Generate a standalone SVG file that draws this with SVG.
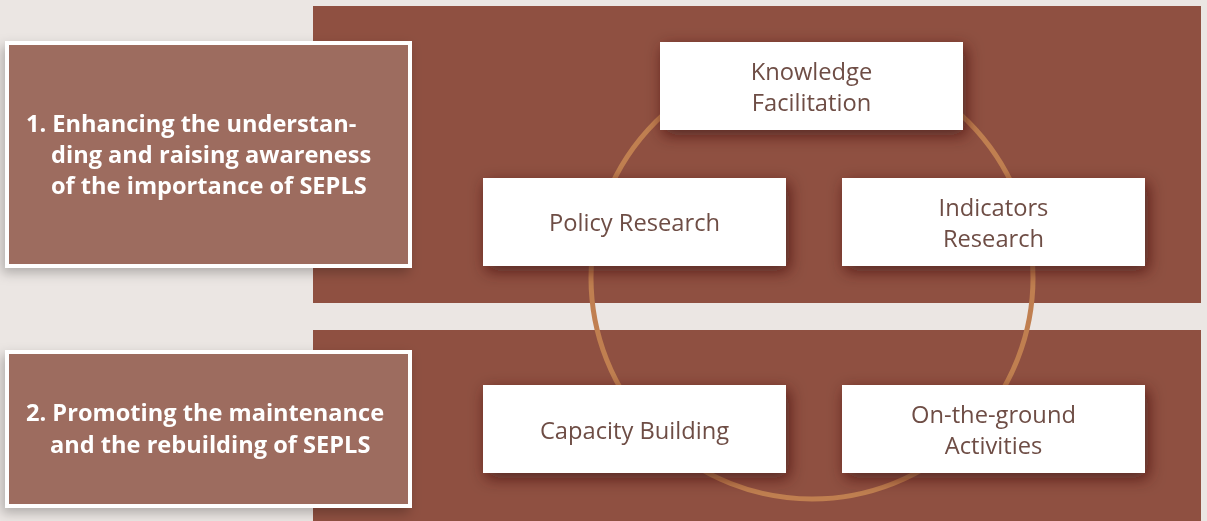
<svg xmlns="http://www.w3.org/2000/svg" width="1207" height="521" viewBox="0 0 1207 521">
<defs>
<filter id="sh" x="-20%" y="-40%" width="140%" height="180%">
<feDropShadow dx="3" dy="5" stdDeviation="8" flood-color="#3a160e" flood-opacity="0.7"/>
</filter>
<filter id="shl" x="-20%" y="-20%" width="140%" height="140%">
<feDropShadow dx="-3" dy="5" stdDeviation="6" flood-color="#000" flood-opacity="0.25"/>
</filter>
</defs>
<style>
.band{fill:#8f5041}
.goal{fill:#9d6c5e;stroke:#fff;stroke-width:4}
.gt{font-family:"Open Sans","Noto Sans",sans-serif;font-weight:bold;font-size:23.6px;fill:#fff}
.box{fill:#fff}
.nt{font-family:"Open Sans","Noto Sans",sans-serif;font-size:23.7px;fill:#6e4d45;text-anchor:middle}
</style>
<rect width="1207" height="521" fill="#ebe6e3"/>
<rect class="band" x="313" y="6" width="888" height="297"/>
<rect class="band" x="313" y="330" width="888" height="191"/>
<g id="goal1" filter="url(#shl)">
<rect class="goal" x="7" y="43" width="403" height="223"/>
<text class="gt" x="26" y="132">1. Enhancing the understan-</text>
<text class="gt" x="51" y="163">ding and raising awareness</text>
<text class="gt" x="51" y="194">of the importance of SEPLS</text>
</g>
<g id="goal2" filter="url(#shl)">
<rect class="goal" x="7" y="352" width="403" height="154"/>
<text class="gt" x="26" y="421">2. Promoting the maintenance</text>
<text class="gt" x="50" y="453">and the rebuilding of SEPLS</text>
</g>
<g id="connectors">
<circle cx="812" cy="278" r="221" fill="none" stroke="#c07f50" stroke-width="5"/>
</g>
<g id="knowledge" filter="url(#sh)">
<rect class="box" x="660" y="42" width="303" height="88"/>
<text class="nt" x="811.5" y="80">Knowledge</text>
<text class="nt" x="811.5" y="111">Facilitation</text>
</g>
<g id="policy" filter="url(#sh)">
<rect class="box" x="483" y="178" width="303" height="88"/>
<text class="nt" x="634.5" y="231">Policy Research</text>
</g>
<g id="indicators" filter="url(#sh)">
<rect class="box" x="842" y="178" width="303" height="88"/>
<text class="nt" x="993.5" y="216">Indicators</text>
<text class="nt" x="993.5" y="247">Research</text>
</g>
<g id="capacity" filter="url(#sh)">
<rect class="box" x="483" y="385" width="303" height="88"/>
<text class="nt" x="634.5" y="439">Capacity Building</text>
</g>
<g id="ontheground" filter="url(#sh)">
<rect class="box" x="842" y="385" width="303" height="88"/>
<text class="nt" x="993.5" y="423">On-the-ground</text>
<text class="nt" x="993.5" y="454">Activities</text>
</g>
</svg>
